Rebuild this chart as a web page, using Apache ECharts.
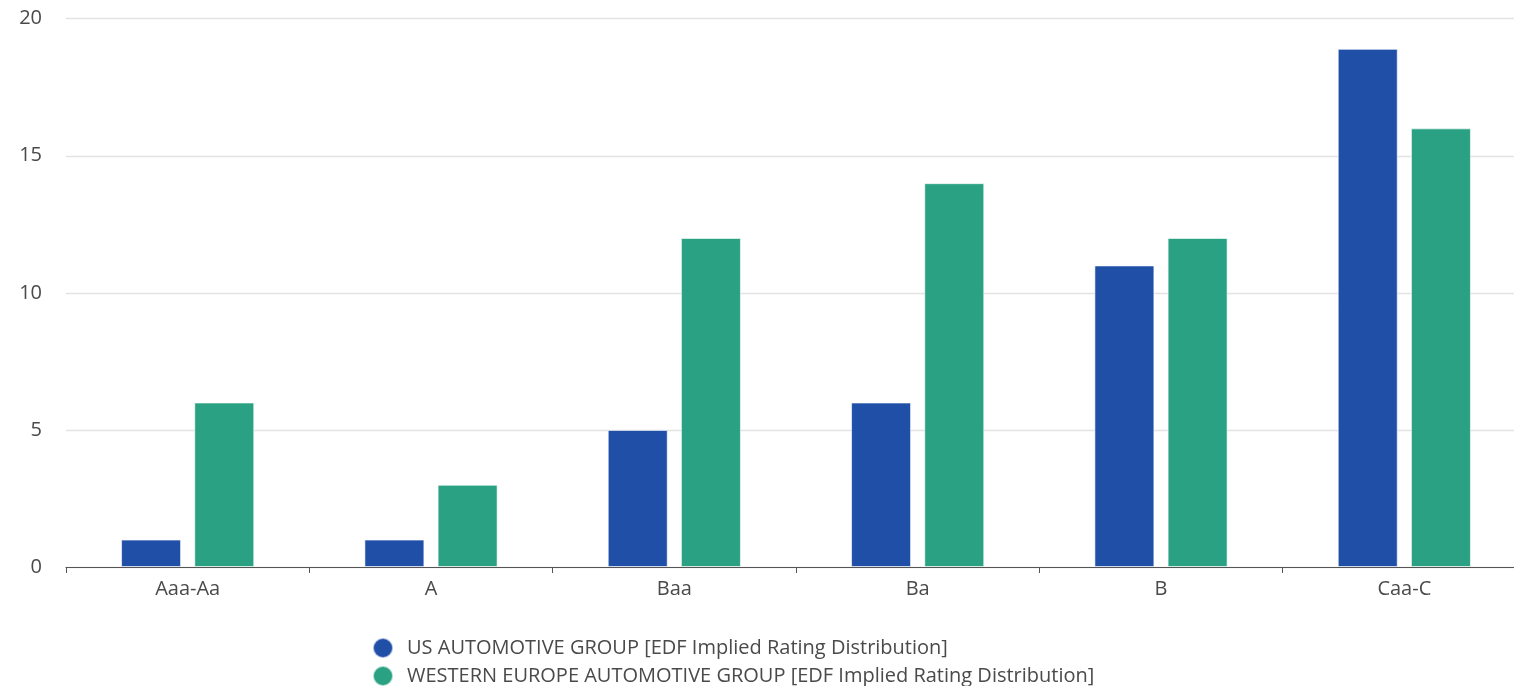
<!DOCTYPE html>
<html>
<head>
<meta charset="utf-8">
<title>EDF Implied Rating Distribution</title>
<script src="https://cdn.jsdelivr.net/npm/echarts@6/dist/echarts.min.js"></script>
<style>
  html, body { margin: 0; padding: 0; background: #ffffff; }
  #chart { width: 1514px; height: 686px; }
</style>
</head>
<body>
<div id="chart"></div>
<script>
// Rating buckets on the x axis
const categories = ['Aaa-Aa', 'A', 'Baa', 'Ba', 'B', 'Caa-C'];

// Share of companies in each bucket
const usValues = [1, 1, 5, 6, 11, 18.9];
const weValues = [6, 3, 12, 14, 12, 16];

const seriesNames = [
  'US AUTOMOTIVE GROUP [EDF Implied Rating Distribution]',
  'WESTERN EUROPE AUTOMOTIVE GROUP [EDF Implied Rating Distribution]'
];

const yTicks = { min: 0, max: 20, interval: 5 };

const fontFamily = '"Open Sans", "Noto Sans", sans-serif';
const textColor = '#4a4a4a';

const chart = echarts.init(document.getElementById('chart'));

const barStyle = (color) => ({
  color: color,
  borderColor: 'rgba(255,255,255,0.6)',
  borderWidth: 1
});

// One legend block per series, stacked under the plot
const legendBlock = (name, top) => ({
  orient: 'vertical',
  left: 367,
  top: top,
  icon: 'circle',
  itemWidth: 38,
  itemHeight: 20,
  textStyle: { fontSize: 20, color: textColor, fontFamily: fontFamily },
  data: [name]
});

chart.setOption({
  animation: false,
  textStyle: { fontFamily: fontFamily },
  // the plot runs a little past the right edge of the canvas
  grid: {
    left: 66,
    right: -12,
    top: 18.7,
    bottom: 119,
    containLabel: false,
    outerBoundsMode: 'none'
  },
  legend: [
    legendBlock(seriesNames[0], 632),
    legendBlock(seriesNames[1], 660)
  ],
  xAxis: {
    type: 'category',
    data: categories,
    axisLine: { show: true, lineStyle: { color: '#555', width: 1.2 } },
    axisTick: { show: true, length: 6, lineStyle: { color: '#555' } },
    axisLabel: { fontSize: 20, color: textColor, margin: 12 },
    splitLine: { show: false }
  },
  yAxis: {
    type: 'value',
    min: yTicks.min,
    max: yTicks.max,
    interval: yTicks.interval,
    axisLine: { show: false },
    axisTick: { show: false },
    axisLabel: { fontSize: 20, color: textColor, margin: 24 },
    splitLine: { lineStyle: { color: '#e3e3e3', width: 1.3 } }
  },
  series: [
    {
      name: seriesNames[0],
      type: 'bar',
      data: usValues,
      barWidth: 60,
      barGap: '22%',
      itemStyle: barStyle('#1f4fa6')
    },
    {
      name: seriesNames[1],
      type: 'bar',
      data: weValues,
      barWidth: 60,
      itemStyle: barStyle('#29a182')
    }
  ]
});
</script>
</body>
</html>
